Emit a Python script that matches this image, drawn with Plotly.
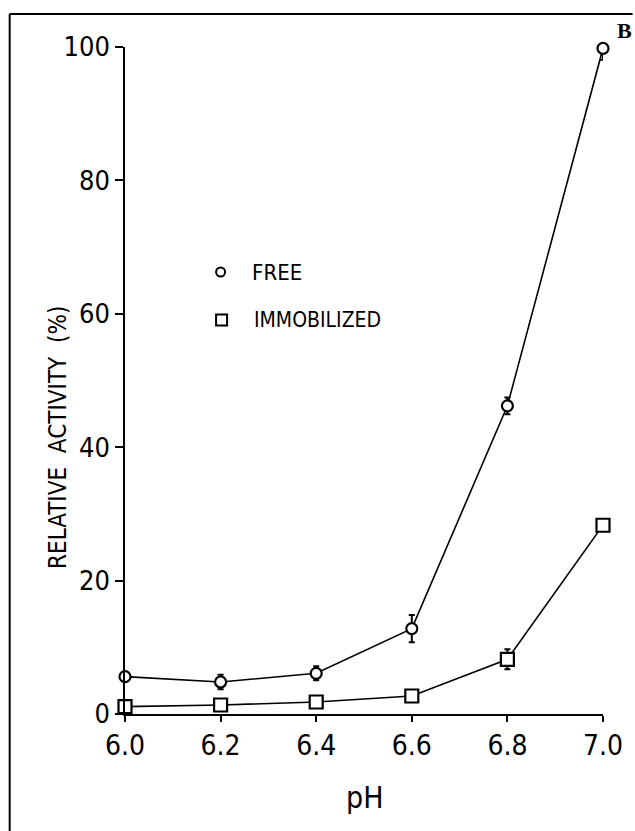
import plotly.graph_objects as go

ph = [6.0, 6.2, 6.4, 6.6, 6.8, 7.0]
free = [5.6, 4.8, 6.1, 12.8, 46.2, 99.8]
free_err = [0, 1.1, 1.05, 2.05, 1.25, 1.7]
immob = [1.1, 1.35, 1.8, 2.7, 8.2, 28.3]
immob_err = [0, 0, 0, 0, 1.5, 0]
x_ticks = [6.0, 6.2, 6.4, 6.6, 6.8, 7.0]
x_ticktext = ["6.0", "6.2", "6.4", "6.6", "6.8", "7.0"]
y_ticks = [0, 20, 40, 60, 80, 100]

FAM = "DejaVu Sans Condensed, DejaVu Sans, sans-serif"

W, H = 635, 831
L, R, T, B = 125, 25, 47, 117
PW, PH = W - L - R, H - T - B


def px(xp):
    return (xp - L) / PW


def py(yp):
    return (H - B - yp) / PH


def cfont(size):
    return dict(family=FAM, size=size, color="black")


fig = go.Figure()
fig.add_trace(go.Scatter(
    x=ph, y=free, mode="lines+markers", name="FREE",
    line=dict(color="black", width=1.6),
    marker=dict(symbol="circle", size=11, color="white",
                line=dict(color="black", width=2.2)),
    error_y=dict(type="data", array=free_err, visible=True,
                 color="black", thickness=2, width=3),
    cliponaxis=False, showlegend=False,
))
fig.add_trace(go.Scatter(
    x=ph, y=immob, mode="lines+markers", name="IMMOBILIZED",
    line=dict(color="black", width=1.6),
    marker=dict(symbol="square", size=13, color="white",
                line=dict(color="black", width=2.2)),
    error_y=dict(type="data", array=immob_err, visible=True,
                 color="black", thickness=2, width=3),
    cliponaxis=False, showlegend=False,
))

fig.update_xaxes(
    range=[6.0, 7.0], tickvals=x_ticks, ticktext=x_ticktext,
    showline=True, linecolor="black", linewidth=1.5,
    ticks="outside", ticklen=6, tickwidth=1.5, tickcolor="black",
    showgrid=False, zeroline=False,
    tickfont=cfont(28),
)
fig.update_yaxes(
    range=[0, 100], tickvals=y_ticks,
    showline=True, linecolor="black", linewidth=1.5,
    ticks="outside", ticklen=8, tickwidth=1.5, tickcolor="black",
    showgrid=False, zeroline=False,
    tickfont=cfont(27),
)

shapes = [
    # scan frame: left and top edges
    dict(type="line", xref="paper", yref="paper",
         x0=px(8), x1=px(8), y0=py(14), y1=py(H + 5),
         line=dict(color="black", width=2)),
    dict(type="line", xref="paper", yref="paper",
         x0=px(8), x1=px(W + 5), y0=py(14), y1=py(14),
         line=dict(color="black", width=2)),
    # legend keys
    dict(type="circle", xref="paper", yref="paper",
         xsizemode="pixel", ysizemode="pixel",
         xanchor=px(222), yanchor=py(272),
         x0=-4.5, x1=4.5, y0=-4.5, y1=4.5,
         line=dict(color="black", width=2), fillcolor="white"),
    dict(type="rect", xref="paper", yref="paper",
         xsizemode="pixel", ysizemode="pixel",
         xanchor=px(223), yanchor=py(320),
         x0=-5.5, x1=5.5, y0=-5.5, y1=5.5,
         line=dict(color="black", width=2), fillcolor="white"),
]

annotations = [
    dict(text="FREE", xref="paper", yref="paper", x=px(252), y=py(272),
         xanchor="left", yanchor="middle", showarrow=False,
         font=cfont(22)),
    dict(text="IMMOBILIZED", xref="paper", yref="paper", x=px(254), y=py(320),
         xanchor="left", yanchor="middle", showarrow=False,
         font=cfont(21)),
    dict(text="RELATIVE  ACTIVITY  (%)", xref="paper", yref="paper",
         x=px(57), y=py(437), textangle=-90,
         xanchor="center", yanchor="middle", showarrow=False,
         font=cfont(24)),
    dict(text="pH", xref="paper", yref="paper", x=px(368), y=py(797),
         xanchor="center", yanchor="middle", showarrow=False,
         font=cfont(30)),
    dict(text="<b>B</b>", xref="paper", yref="paper", x=px(622), y=py(30),
         xanchor="left", yanchor="middle", showarrow=False,
         font=dict(family="Liberation Serif, serif", size=22, color="black")),
]

fig.update_layout(
    width=W, height=H,
    margin=dict(l=L, r=R, t=T, b=B),
    paper_bgcolor="white", plot_bgcolor="white",
    shapes=shapes, annotations=annotations,
    showlegend=False,
)

fig.write_html("out.html")
